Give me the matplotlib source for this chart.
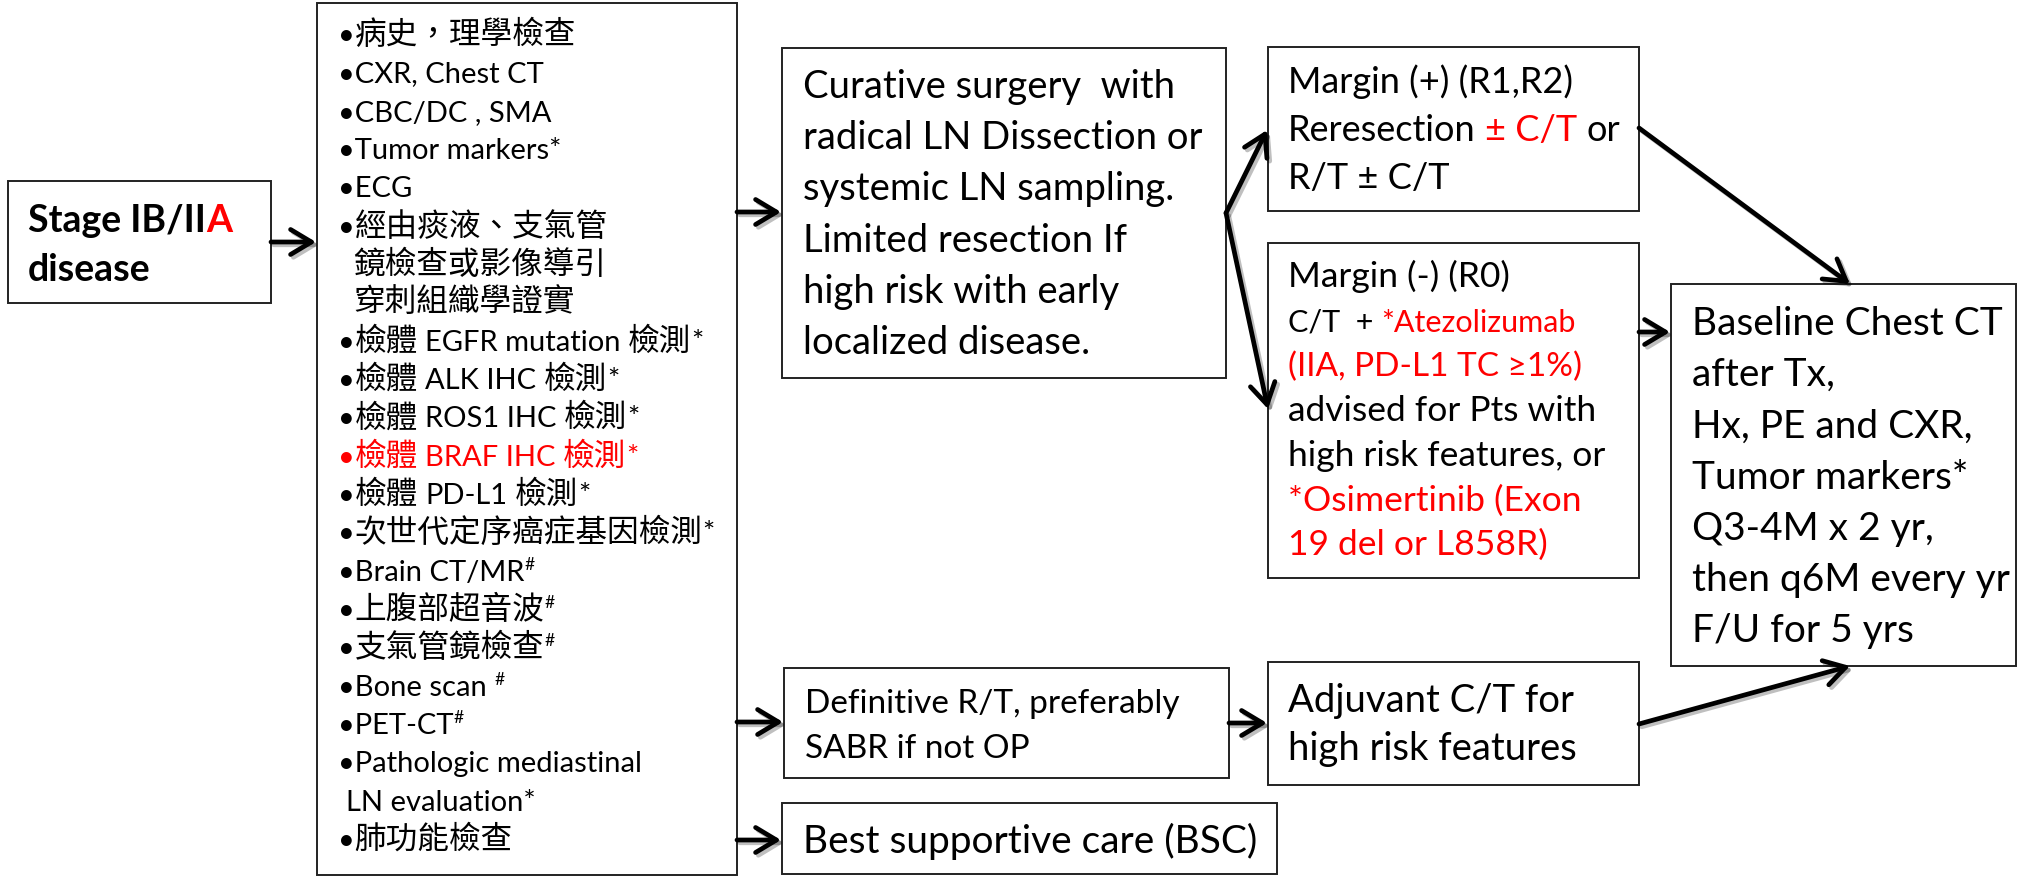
import matplotlib
matplotlib.use("Agg")
import matplotlib.pyplot as plt
import matplotlib.patheffects as pe
from matplotlib.patches import Rectangle, FancyArrowPatch

# text content of each box, one list per line, (text, style) pieces
# style: 'k' black, 'r' red, 's' superscript
stage_lines = [[("Stage IB/II", "k"), ("A", "r")],
               [("disease", "k")]]

workup_lines = [
    [("•病史，理學檢查", "k")],
    [("•CXR, Chest CT", "k")],
    [("•CBC/DC , SMA", "k")],
    [("•Tumor markers*", "k")],
    [("•ECG", "k")],
    [("•經由痰液、支氣管", "k")],
    [(" 鏡檢查或影像導引", "k")],
    [(" 穿刺組織學證實", "k")],
    [("•檢體 EGFR mutation 檢測*", "k")],
    [("•檢體 ALK IHC 檢測*", "k")],
    [("•檢體 ROS1 IHC 檢測*", "k")],
    [("•檢體 BRAF IHC 檢測*", "r")],
    [("•檢體 PD-L1 檢測*", "k")],
    [("•次世代定序癌症基因檢測*", "k")],
    [("•Brain CT/MR", "k"), ("#", "s")],
    [("•上腹部超音波", "k"), ("#", "s")],
    [("•支氣管鏡檢查", "k"), ("#", "s")],
    [("•Bone scan ", "k"), ("#", "s")],
    [("•PET-CT", "k"), ("#", "s")],
    [("•Pathologic mediastinal", "k")],
    [(" LN evaluation*", "k")],
    [("•肺功能檢查", "k")],
]

surgery_lines = [[("Curative surgery  with", "k")],
                 [("radical LN Dissection or", "k")],
                 [("systemic LN sampling.", "k")],
                 [("Limited resection If", "k")],
                 [("high risk with early", "k")],
                 [("localized disease.", "k")]]

pos_lines = [[("Margin (+) (R1,R2)", "k")],
             [("Reresection", "k"), (" ± C/T", "r"), (" or", "k")],
             [("R/T ± C/T", "k")]]

neg_lines = [[("Margin (-) (R0)", "k")],
             [("C/T  + ", "k"), ("*Atezolizumab", "r")],
             [("(IIA, PD-L1 TC ≥1%)", "r")],
             [("advised for Pts with", "k")],
             [("high risk features, or", "k")],
             [("*Osimertinib (Exon", "r")],
             [("19 del or L858R)", "r")]]

fu_lines = [[("Baseline Chest CT", "k")],
            [("after Tx,", "k")],
            [("Hx, PE and CXR,", "k")],
            [("Tumor markers*", "k")],
            [("Q3-4M x 2 yr,", "k")],
            [("then q6M every yr", "k")],
            [("F/U for 5 yrs", "k")]]

rt_lines = [[("Definitive R/T, preferably", "k")],
            [("SABR if not OP", "k")]]

adj_lines = [[("Adjuvant C/T for", "k")],
             [("high risk features", "k")]]

bsc_lines = [[("Best supportive care (BSC)", "k")]]

LATIN = ["Lato", "DejaVu Sans"]
CJK = ["Noto Sans CJK TC", "DejaVu Sans"]
COLORS = {"k": "black", "r": "#ff0000", "s": "black"}
PX = 100 / 72.0

fig = plt.figure(figsize=(20.2, 8.76), dpi=100)
ax = fig.add_axes([0, 0, 1, 1])
ax.set_xlim(0, 2020)
ax.set_ylim(876, 0)
ax.axis("off")
renderer = fig.canvas.get_renderer()

_space = {}


def space_w(fs, fam, weight):
    key = (fs, fam[0], weight)
    if key not in _space:
        a = ax.text(0, -100, "a a", fontsize=fs, family=fam, weight=weight)
        b = ax.text(0, -100, "aa", fontsize=fs, family=fam, weight=weight)
        _space[key] = (a.get_window_extent(renderer).width
                       - b.get_window_extent(renderer).width)
        a.remove()
        b.remove()
    return _space[key]


def is_cjk(ch):
    return ord(ch) >= 0x2E80


def segments(s):
    out = []
    for ch in s:
        c = is_cjk(ch) if ch != " " else (out[-1][1] if out else False)
        if out and out[-1][1] == c:
            out[-1][0] += ch
        else:
            out.append([ch, c])
    return out


def draw_line(x, base, parts, size, weight="normal", cjk_size=None):
    for txt, style in parts:
        if style == "s":
            fs, y = size * 0.6, base - size * PX * 0.38
        else:
            fs, y = size, base
        for seg, cjk in segments(txt):
            fam = CJK if cjk else LATIN
            f = (cjk_size or fs * 1.2) if cjk else fs
            sw = space_w(f, fam, weight)
            lead = len(seg) - len(seg.lstrip(" "))
            trail = len(seg) - len(seg.rstrip(" "))
            x += lead * sw
            core = seg.strip(" ")
            if core:
                t = ax.text(x, y, core, fontsize=f, family=fam, weight=weight,
                            color=COLORS[style], ha="left", va="baseline")
                x += t.get_window_extent(renderer).width
            x += trail * sw


def box(x0, y0, x1, y1):
    ax.add_patch(Rectangle((x0, y0), x1 - x0, y1 - y0, fill=False,
                           lw=1.4, edgecolor="#222222"))


def block(lines, x, base0, step, size, weight="normal", cjk_size=None,
          sizes=None):
    for i, parts in enumerate(lines):
        s = sizes.get(i, size) if sizes else size
        draw_line(x, base0 + i * step, parts, s, weight, cjk_size)


def arrow(p0, p1):
    a = FancyArrowPatch(p0, p1, arrowstyle="->,head_length=0.75,head_width=0.45",
                        mutation_scale=20, lw=3.4, color="black",
                        shrinkA=0, shrinkB=0, capstyle="round")
    a.set_path_effects([pe.SimpleLineShadow(offset=(2, -2), alpha=0.25),
                        pe.Normal()])
    ax.add_patch(a)


# boxes
box(8, 181, 271, 303)
box(317, 3, 737, 875)
box(782, 48, 1226, 378)
box(1268, 47, 1639, 211)
box(1268, 243, 1639, 578)
box(1671, 284, 2016, 666)
box(784, 668, 1229, 778)
box(1268, 662, 1639, 785)
box(782, 803, 1277, 874)

# texts
block(stage_lines, 28, 232, 49, 27, weight="bold")
block(workup_lines, 338, 44, 38.33, 21, cjk_size=22.8)
block(surgery_lines, 803, 98, 51.2, 27.5)
block(pos_lines, 1288, 93, 48, 26)
block(neg_lines, 1288, 287, 44.7, 25.5, sizes={1: 22, 2: 24})
block(fu_lines, 1692, 335, 51.2, 28)
block(rt_lines, 805, 713, 45, 24)
block(adj_lines, 1288, 712, 48, 27.5)
block(bsc_lines, 803, 853, 0, 28)

# arrows
arrow((271, 242), (316, 242))
arrow((737, 212), (781, 212))
arrow((737, 722), (783, 722))
arrow((737, 840), (781, 840))
arrow((1226, 213), (1267, 130))
arrow((1226, 213), (1268, 409))
arrow((1229, 723), (1267, 723))
arrow((1639, 128), (1850, 284))
arrow((1639, 332), (1670, 332))
arrow((1639, 724), (1850, 666))

fig.savefig("out.png", dpi=100, facecolor="white")
